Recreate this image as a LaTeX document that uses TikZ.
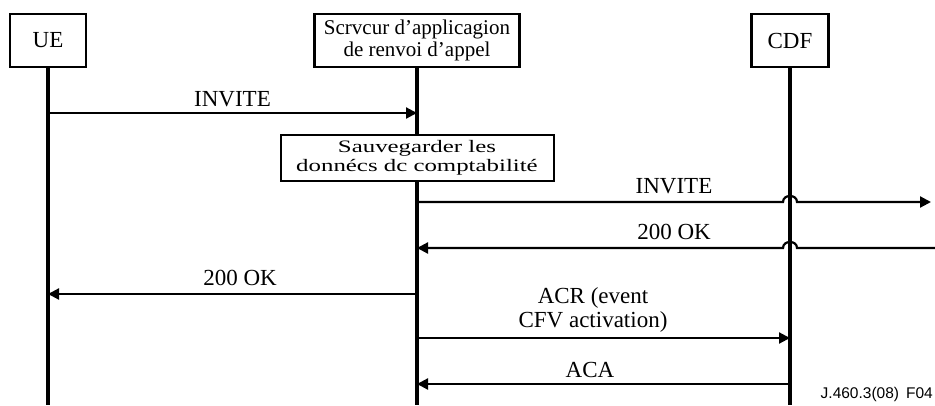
\documentclass[tikz,border=0pt]{standalone}
\usepackage{fontspec}
\setmainfont{Liberation Serif}
\newfontfamily\figsans{Liberation Sans}
\usetikzlibrary{arrows.meta}

\tikzset{
  actor/.style={draw, fill=white, line width=2.5pt, minimum height=53pt,
    inner sep=0pt, align=center, font=\fontsize{21}{22}\selectfont},
  bigname/.style={font=\fontsize{23}{24}\selectfont},
  actionbox/.style={draw, fill=white, line width=2pt, minimum width=273pt,
    minimum height=46pt, inner sep=0pt, align=center,
    font=\fontsize{17.5}{15}\selectfont},
  lifeline/.style={line width=4pt},
  msg/.style={line width=2.2pt, -{Triangle[length=11pt,width=11pt]}},
  lbl/.style={anchor=base, inner sep=0pt, align=center,
    font=\fontsize{23}{24}\selectfont},
  tag/.style={anchor=base east, inner sep=0pt, font=\figsans\fontsize{15.5}{15}\selectfont},
}

\begin{document}
\begin{tikzpicture}[x=1pt, y=-1pt]
  \useasboundingbox (0,0) rectangle (935,405);

  % participants
  \node[actor, bigname, minimum width=76pt]  (ue)  at (48,40.5)  {UE};
  \node[actor, minimum width=205pt] (as)  at (417,40.5) {Scrvcur d’applicagion\\de renvoi d’appel};
  \node[actor, bigname, minimum width=77pt]  (cdf) at (790,40.5) {CDF};

  % row heights of the exchanges
  \coordinate (bottom) at (0,405);
  \coordinate (r1) at (0,113);
  \coordinate (r2) at (0,158);
  \coordinate (r3) at (0,202);
  \coordinate (r4) at (0,248);
  \coordinate (r5) at (0,294);
  \coordinate (r6) at (0,338);
  \coordinate (r7) at (0,384);
  \coordinate (outR) at (931,202);
  \coordinate (inR)  at (935,248);

  % lifelines
  \draw[lifeline] (ue.south)  -- (ue.south |- bottom);
  \draw[lifeline] (as.south)  -- (as.south |- bottom);
  \draw[lifeline] (cdf.south) -- (cdf.south |- bottom);

  % local action on the application server
  \node[actionbox] (save) at (as |- r2)
    {\scalebox{1.42}[1]{\shortstack{Sauvegarder les\\donnécs dc comptabilité}}};

  % INVITE from UE
  \draw[msg] (ue |- r1) -- (as |- r1);
  \node[lbl] (l1) at (232.5,106) {INVITE};

  % INVITE forwarded, hopping over the CDF lifeline
  \draw[msg] (as |- r3) -- ([xshift=-7pt]cdf |- r3)
    .. controls +(0,-8) and +(0,-8) .. ([xshift=7pt]cdf |- r3) -- (outR);
  \node[lbl] (l2) at (674,193) {INVITE};

  % 200 OK coming back, hopping over the CDF lifeline
  \draw[msg] (inR) -- ([xshift=7pt]cdf |- r4)
    .. controls +(0,-8) and +(0,-8) .. ([xshift=-7pt]cdf |- r4) -- (as |- r4);
  \node[lbl] (l3) at (674,239) {200 OK};

  % 200 OK to UE
  \draw[msg] (as |- r5) -- (ue |- r5);
  \node[lbl] (l4) at (240,285) {200 OK};

  % accounting request / answer
  \draw[msg] (as |- r6) -- (cdf |- r6);
  \node[lbl] (l5) at (593,303) {ACR (event};
  \node[lbl] (l6) at (593,327) {CFV activation)};
  \draw[msg] (cdf |- r7) -- (as |- r7);
  \node[lbl] (l7) at (590,377) {ACA};

  % figure reference
  \node[tag] (ref) at (933,398) {J.460.3(08)\hspace{7pt}F04};
\end{tikzpicture}
\end{document}
